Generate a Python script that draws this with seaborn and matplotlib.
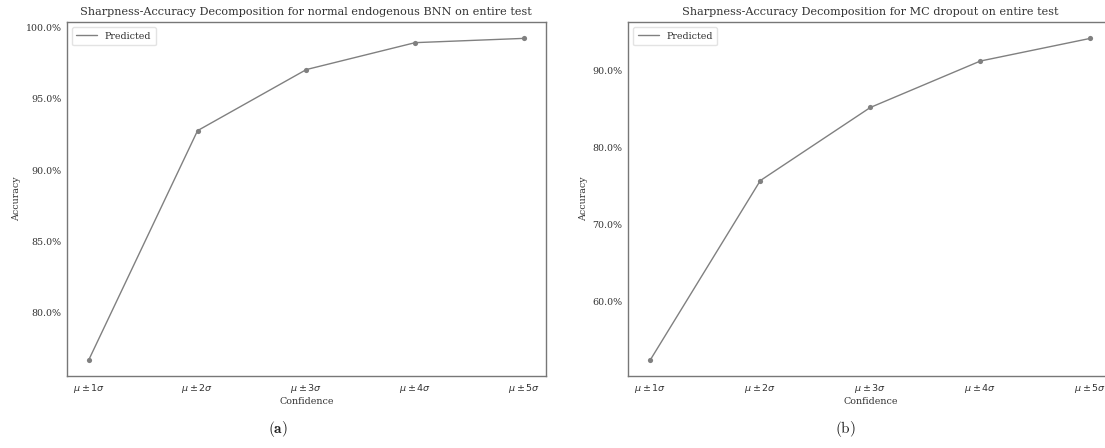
import matplotlib
matplotlib.use("Agg")
import matplotlib.pyplot as plt
from matplotlib.ticker import PercentFormatter, MultipleLocator
import seaborn as sns
import pandas as pd

# ---- data ----
confidence = [r"$\mu \pm 1\sigma$", r"$\mu \pm 2\sigma$", r"$\mu \pm 3\sigma$",
              r"$\mu \pm 4\sigma$", r"$\mu \pm 5\sigma$"]
acc_bnn = [76.67, 92.77, 97.06, 98.95, 99.25]
acc_mc = [52.42, 75.67, 85.15, 91.17, 94.11]
titles = ["Sharpness-Accuracy Decomposition for normal endogenous BNN on entire test",
          "Sharpness-Accuracy Decomposition for MC dropout on entire test"]
captions = [r"$\mathbf{(a)}$", r"$\mathrm{(b)}$"]
series_label = "Predicted"

sns.set_theme(style="white")
plt.rcParams["font.family"] = ["DejaVu Serif"]
plt.rcParams["mathtext.fontset"] = "dejavusans"

W, H = 1105, 448
fig = plt.figure(figsize=(W / 100, H / 100), dpi=100)

positions = [
    [67 / W, (H - 376) / H, 478.7 / W, 353.7 / H],
    [628.3 / W, (H - 376) / H, 484 / W, 353.7 / H],
]
locators = [5, 10]
fs = 6.8

for i, (vals, pos) in enumerate(zip([acc_bnn, acc_mc], positions)):
    ax = fig.add_axes(pos)
    df = pd.DataFrame({"Confidence": confidence, "Accuracy": vals})
    sns.lineplot(data=df, x="Confidence", y="Accuracy", ax=ax, color="gray",
                 linewidth=1.0, label=series_label, sort=False)
    sns.scatterplot(data=df, x="Confidence", y="Accuracy", ax=ax, color="gray",
                    s=14, linewidth=0, zorder=3)
    ax.yaxis.set_major_locator(MultipleLocator(locators[i]))
    ax.yaxis.set_major_formatter(PercentFormatter(xmax=100, decimals=1))
    ax.tick_params(axis="both", labelsize=fs, length=0, pad=4, labelcolor="#333333")
    ax.set_xlabel("Confidence", fontsize=fs, labelpad=1.5, color="#333333")
    ax.set_ylabel("Accuracy", fontsize=fs, labelpad=3, color="#333333")
    ax.set_title(titles[i], fontsize=8.1, pad=5, color="#333333")
    for sp in ax.spines.values():
        sp.set_color("#777777")
        sp.set_linewidth(1.0)
    leg = ax.legend(loc="upper left", fontsize=fs, frameon=True, handlelength=2.2,
                    borderpad=0.5, fancybox=True)
    leg.get_frame().set_edgecolor("#dddddd")
    for t in leg.get_texts():
        t.set_color("#333333")

fig.text(277.7 / W, 1 - 429 / H, captions[0], ha="center", va="center",
         fontsize=11, math_fontfamily="cm", color="#222222")
fig.text(845 / W, 1 - 429 / H, captions[1], ha="center", va="center",
         fontsize=11, math_fontfamily="cm", color="#222222")

fig.savefig("out.png", dpi=100)
